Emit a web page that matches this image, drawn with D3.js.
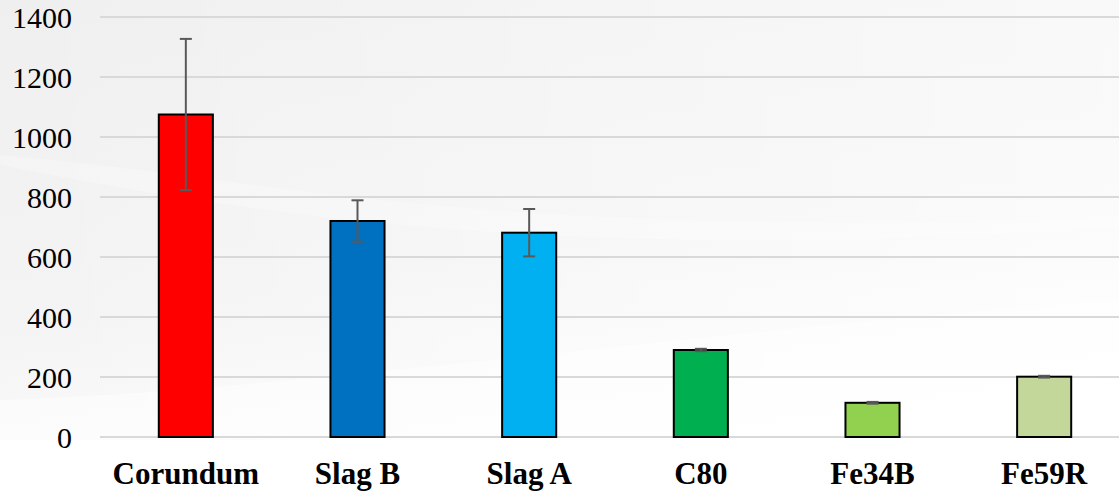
<!DOCTYPE html>
<html>
<head>
<meta charset="utf-8">
<script src="https://cdn.jsdelivr.net/npm/d3@7"></script>
<style>
  html, body { margin: 0; padding: 0; background: #ffffff; overflow: hidden; }
  svg { display: block; }
  .lbl { font-family: 'Liberation Serif', 'Times New Roman', serif; fill: #000; }
</style>
</head>
<body>
<svg id="chart" width="1119" height="492"></svg>
<script>
const categories = ["Corundum", "Slag B", "Slag A", "C80", "Fe34B", "Fe59R"];
const values = [1075, 720, 681, 290, 114, 201];
const errors = [252, 69, 79, 4, 3, 3];
const colors = ["#FF0000", "#0070C0", "#00B0F0", "#00B050", "#92D050", "#C4D79B"];
const yTicks = [0, 200, 400, 600, 800, 1000, 1200, 1400];

const W = 1119, H = 492;
const svg = d3.select("#chart");

// background
const defs = svg.append("defs");
const bg = defs.append("linearGradient").attr("id", "bg")
  .attr("x1", "0").attr("y1", "0").attr("x2", "0.35").attr("y2", "1");
bg.append("stop").attr("offset", "0").attr("stop-color", "#efefef");
bg.append("stop").attr("offset", "0.6").attr("stop-color", "#f4f4f4");
bg.append("stop").attr("offset", "0.88").attr("stop-color", "#fbfbfb");
bg.append("stop").attr("offset", "1").attr("stop-color", "#ffffff");
svg.append("rect").attr("width", W).attr("height", H).attr("fill", "url(#bg)");
const bg2 = defs.append("linearGradient").attr("id", "bg2")
  .attr("x1", "0").attr("y1", "0").attr("x2", "1").attr("y2", "0");
bg2.append("stop").attr("offset", "0").attr("stop-color", "#ffffff").attr("stop-opacity", 0);
bg2.append("stop").attr("offset", "1").attr("stop-color", "#ffffff").attr("stop-opacity", 0.55);
svg.append("rect").attr("width", W).attr("height", H).attr("fill", "url(#bg2)");
// soft white swooshes
svg.append("path")
  .attr("d", "M0,155 C250,175 500,245 1119,215 L1119,228 C600,260 300,225 0,165 Z")
  .attr("fill", "#ffffff").attr("opacity", 0.25);
svg.append("path")
  .attr("d", "M0,400 C300,390 700,330 1119,300 L1119,492 L0,492 Z")
  .attr("fill", "#ffffff").attr("opacity", 0.45);
svg.append("rect").attr("x", 0).attr("y", 440).attr("width", W).attr("height", 52)
  .attr("fill", "#ffffff").attr("opacity", 0.8);

const x = d3.scaleBand().domain(categories).range([100, 1130])
  .paddingInner(0.685).paddingOuter(0.3425);
const y = d3.scaleLinear().domain([0, 1400]).range([437, 17]);

// gridlines
svg.append("g").selectAll("line").data(yTicks).join("line")
  .attr("x1", 100).attr("x2", W)
  .attr("y1", d => y(d)).attr("y2", d => y(d))
  .attr("stroke", "#d9d9d9").attr("stroke-width", 2);

// y axis labels
const yAxis = d3.axisLeft(y).tickValues(yTicks).tickFormat(d3.format("d")).tickSize(0).tickPadding(0);
const gy = svg.append("g").attr("transform", "translate(72,0)").call(yAxis)
  .attr("font-family", null).attr("font-size", null);
gy.select(".domain").remove();
gy.selectAll("text").attr("class", "lbl")
  .style("font-size", "30px").attr("dy", "0.34em");

// bars
svg.append("g").selectAll("rect").data(categories).join("rect")
  .attr("x", d => x(d))
  .attr("y", (d, i) => y(values[i]))
  .attr("width", x.bandwidth())
  .attr("height", (d, i) => y(0) - y(values[i]))
  .attr("fill", (d, i) => colors[i])
  .attr("stroke", "#000").attr("stroke-width", 2);

// error bars
const eg = svg.append("g").attr("stroke", "#595959").attr("stroke-width", 2);
categories.forEach((c, i) => {
  const cx = x(c) + x.bandwidth() / 2;
  const hi = y(values[i] + errors[i]), lo = y(values[i] - errors[i]);
  eg.append("line").attr("x1", cx).attr("x2", cx).attr("y1", hi).attr("y2", lo);
  eg.append("line").attr("x1", cx - 6).attr("x2", cx + 6).attr("y1", hi).attr("y2", hi);
  eg.append("line").attr("x1", cx - 6).attr("x2", cx + 6).attr("y1", lo).attr("y2", lo);
});

// x axis labels
const xAxis = d3.axisBottom(x).tickSize(0).tickPadding(0);
const gx = svg.append("g").attr("transform", "translate(0,484)").call(xAxis)
  .attr("font-family", null).attr("font-size", null);
gx.select(".domain").remove();
gx.selectAll("text").attr("class", "lbl")
  .attr("y", 0).attr("dy", 0)
  .style("font-size", "31px").style("font-weight", "bold");
</script>
</body>
</html>
